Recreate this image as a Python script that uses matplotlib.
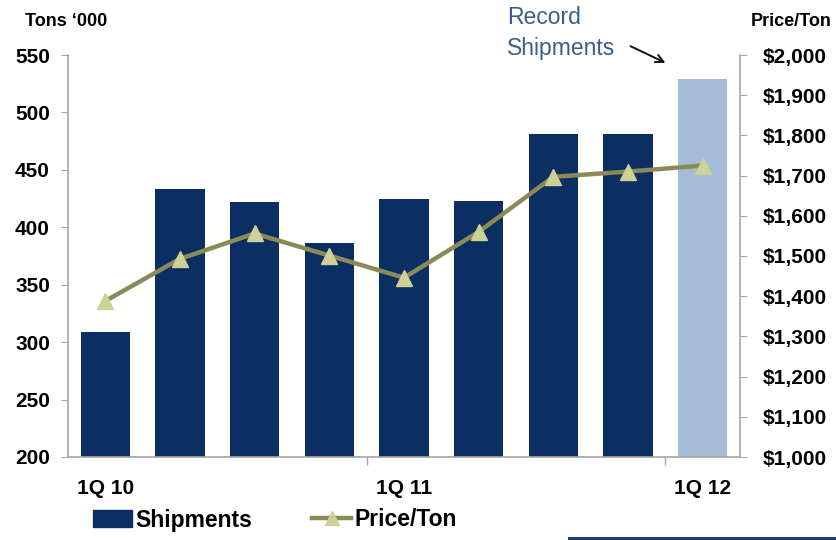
import matplotlib
matplotlib.use("Agg")
import matplotlib.pyplot as plt
from matplotlib.patches import Rectangle, FancyArrowPatch
from matplotlib.lines import Line2D
from matplotlib.ticker import FuncFormatter

plt.rcParams['font.family'] = ['Liberation Sans', 'DejaVu Sans']

quarters = ["1Q 10", "2Q 10", "3Q 10", "4Q 10", "1Q 11", "2Q 11", "3Q 11", "4Q 11", "1Q 12"]
shipments = [309, 433, 422, 386, 425, 423, 481, 481, 529]
price_per_ton = [1388, 1493, 1556, 1501, 1446, 1560, 1697, 1710, 1725]
shown_labels = ["1Q 10", "1Q 11", "1Q 12"]

navy = "#0b2f63"
light = "#a5bcd6"
olive = "#8a8a58"
khaki = "#cfcf98"
axis_gray = "#a6a6a6"

fig = plt.figure(figsize=(8.36, 5.4), dpi=100)
ax = fig.add_axes([68 / 836, 1 - 457 / 540, (740 - 68) / 836, (457 - 55) / 540])
ax2 = ax.twinx()

x = list(range(len(quarters)))
colors = [navy] * (len(quarters) - 1) + [light]
ax.bar(x, shipments, width=0.66, color=colors, zorder=2)

ax2.plot(x, price_per_ton, color=olive, lw=3.2, marker="^", markersize=11,
         markerfacecolor=khaki, markeredgecolor=khaki, zorder=3)

ax.set_xlim(-0.5, len(quarters) - 0.5)
ax.set_ylim(200, 550)
ax.set_yticks(range(200, 551, 50))
ax2.set_ylim(1000, 2000)
ax2.set_yticks(range(1000, 2001, 100))
ax2.yaxis.set_major_formatter(FuncFormatter(lambda v, p: f"${v:,.0f}"))

# x labels sit under every fourth quarter, tick marks at the boundaries
label_pos = [quarters.index(q) for q in shown_labels]
ax.set_xticks([p - 0.5 for p in label_pos[1:]])
ax.set_xticklabels([])
ax.tick_params(axis="x", length=6, color=axis_gray, width=1)
for p, q in zip(label_pos, shown_labels):
    ax.annotate(q, xy=(p, 0), xycoords=("data", "axes fraction"),
                xytext=(0, -23), textcoords="offset points",
                ha="center", va="center", fontsize=15, fontweight="bold")

for a in (ax, ax2):
    for s in a.spines.values():
        s.set_visible(False)
ax.spines["left"].set_visible(True)
ax.spines["bottom"].set_visible(True)
ax2.spines["right"].set_visible(True)
for s in (ax.spines["left"], ax.spines["bottom"], ax2.spines["right"]):
    s.set_color(axis_gray)
    s.set_linewidth(1.2)

ax.tick_params(axis="y", length=5, color=axis_gray, labelsize=15, pad=8)
ax2.tick_params(axis="y", length=5, color=axis_gray, labelsize=15, pad=11)
for lab in ax.get_yticklabels() + ax2.get_yticklabels():
    lab.set_fontweight("bold")

fig.text(25 / 836, 1 - 22 / 540, "Tons \u2018000", fontsize=13, fontweight="bold",
         ha="left", va="center")
fig.text(832 / 836, 1 - 22 / 540, "Price/Ton", fontsize=13, fontweight="bold",
         ha="right", va="center")

fig.text(507 / 836, 1 - 33 / 540, "Record\nShipments", fontsize=16.5, color="#3b5d8c",
         ha="left", va="center", linespacing=1.45)
fig.add_artist(FancyArrowPatch(
    (628 / 836, 1 - 45 / 540), (668 / 836, 1 - 64 / 540),
    transform=fig.transFigure, arrowstyle="->", mutation_scale=14,
    color="#111111", lw=1.4))

handles = [Rectangle((0, 0), 1, 1, color=navy),
           Line2D([], [], color=olive, lw=3.2, marker="^", markersize=10,
                  markerfacecolor=khaki, markeredgecolor=khaki)]
leg = fig.legend(handles, ["Shipments", "Price/Ton"], loc="center left",
                 bbox_to_anchor=(82 / 836, 1 - 520 / 540), ncol=2, frameon=False,
                 fontsize=16.5, handlelength=1.7, handletextpad=0.15,
                 columnspacing=2.6, borderpad=0)
for t in leg.get_texts():
    t.set_fontweight("bold")

fig.add_artist(Rectangle((568 / 836, 0), 1, 3.5 / 540, transform=fig.transFigure,
                         color="#1d3f6e", lw=0))

fig.savefig("out.png", dpi=100, facecolor="white")
